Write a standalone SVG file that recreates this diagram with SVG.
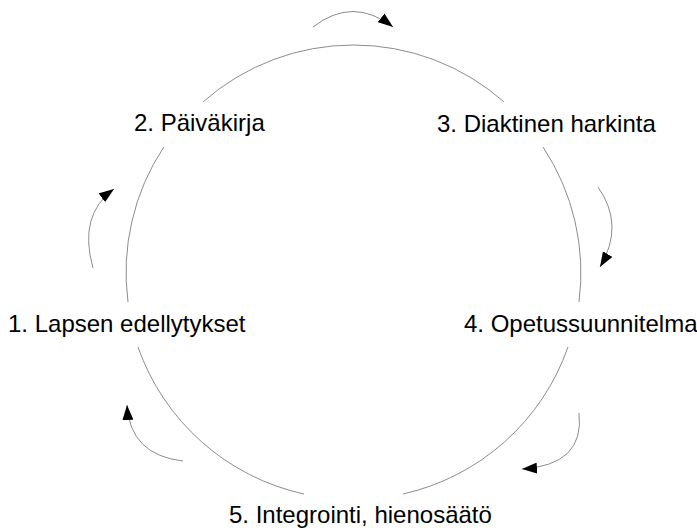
<svg xmlns="http://www.w3.org/2000/svg" width="697" height="531" viewBox="0 0 697 531">
  <style>
    .lbl { font-family: "Liberation Sans", Arial, sans-serif; font-size: 24px; fill: #000; }
    .ring { fill: none; stroke: #8c8c8c; stroke-width: 1; }
    .turn { fill: none; stroke: #8c8c8c; stroke-width: 1; marker-end: url(#head); }
  </style>
  <defs>
    <marker id="head" markerUnits="userSpaceOnUse" markerWidth="15" markerHeight="11" refX="15" refY="5.5" orient="auto">
      <path d="M0,0 L15,5.5 L0,11 z" fill="#000"/>
    </marker>
  </defs>
  <rect width="697" height="531" fill="#fff"/>

  <!-- cycle ring segments and small direction arrows -->
  <g id="connectors">
    <path class="ring" d="M203,101.9 A227.5,227.5 0 0 1 504,101.9"/>
    <path class="ring" d="M543,147 A227.5,227.5 0 0 1 579,302"/>
    <path class="ring" d="M568,347 A227.5,227.5 0 0 1 403,494"/>
    <path class="ring" d="M304,494 A227.5,227.5 0 0 1 138,347"/>
    <path class="ring" d="M128,302 A227.5,227.5 0 0 1 163.8,147"/>

    <path class="turn" d="M313,27 Q353,-4 393,27"/>
    <path class="turn" d="M598,187 Q625,225 600,267"/>
    <path class="turn" d="M579,413 Q585,465 522,469"/>
    <path class="turn" d="M183,461 Q130,455 127,405"/>
    <path class="turn" d="M93,268 Q78,215 114,189"/>
  </g>

  <g id="n1"><text class="lbl" x="8" y="332">1. Lapsen edellytykset</text></g>
  <g id="n2"><text class="lbl" x="134" y="131">2. Päiväkirja</text></g>
  <g id="n3"><text class="lbl" x="437" y="132">3. Diaktinen harkinta</text></g>
  <g id="n4"><text class="lbl" x="464" y="332">4. Opetussuunnitelma</text></g>
  <g id="n5"><text class="lbl" x="229" y="523">5. Integrointi, hienosäätö</text></g>
</svg>
